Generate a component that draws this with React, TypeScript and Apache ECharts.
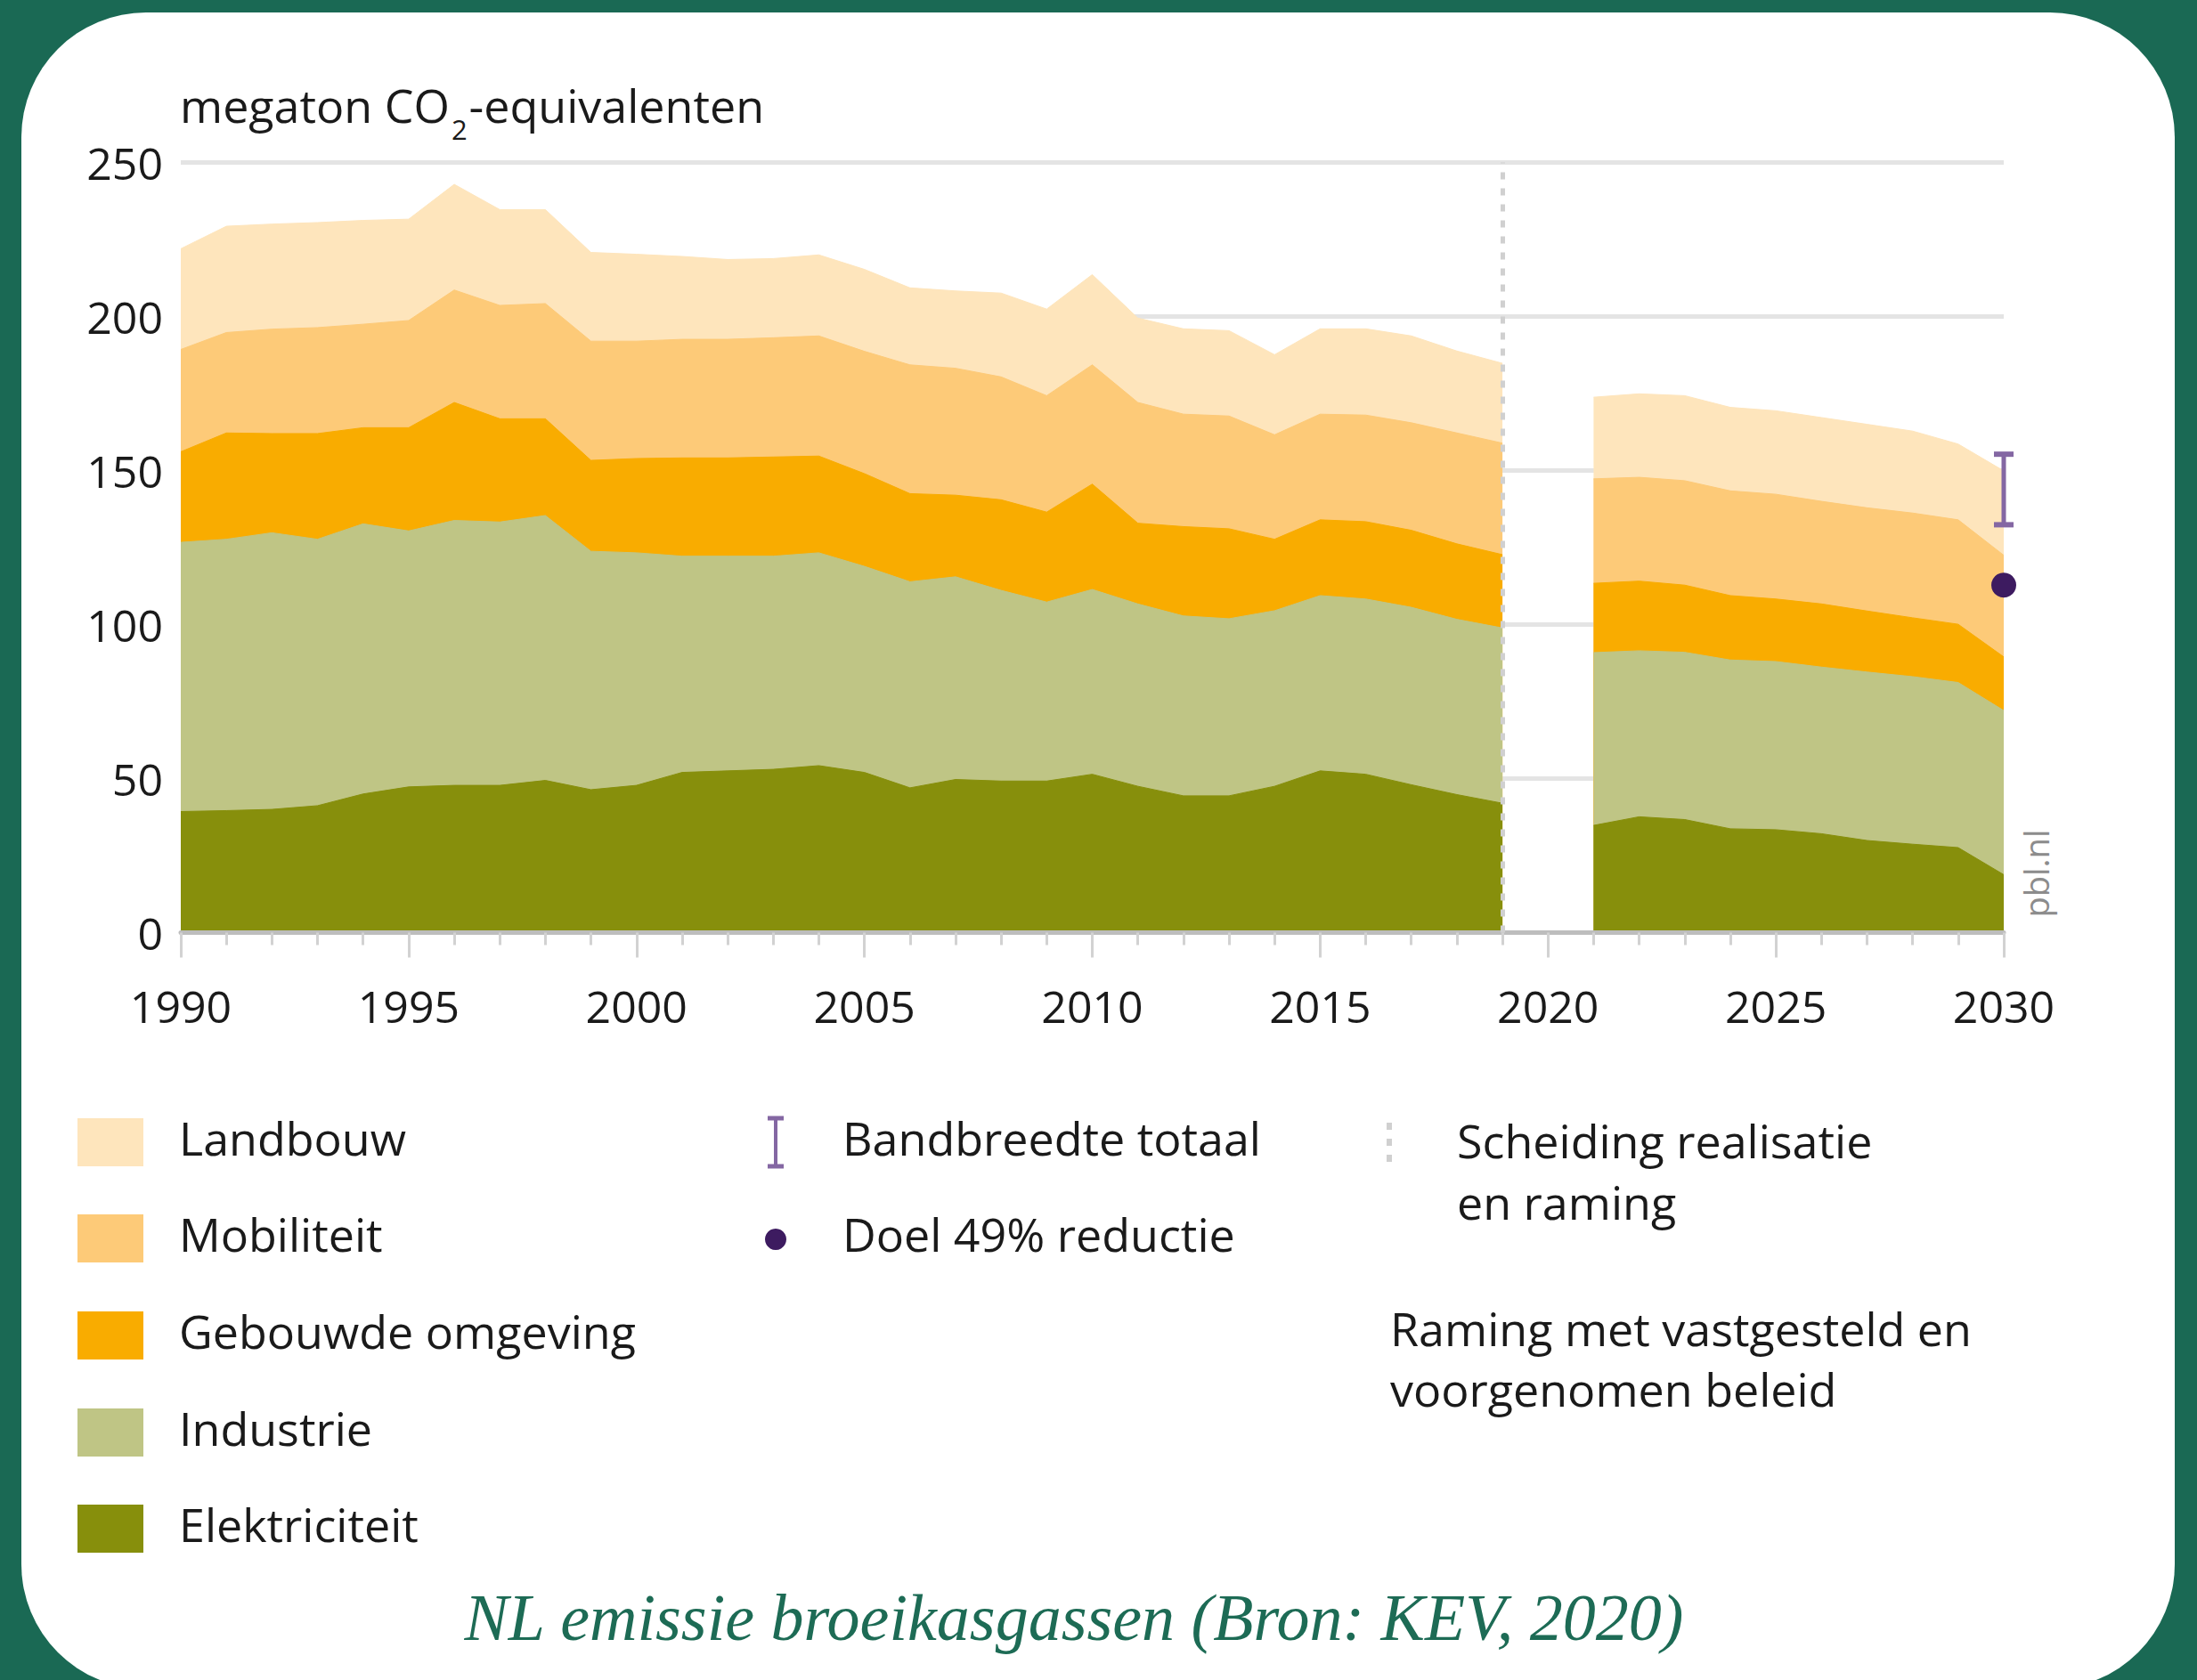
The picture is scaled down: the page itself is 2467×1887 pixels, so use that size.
import React, { useEffect, useRef } from "react";
import * as echarts from "echarts";

const W = 2467;
const H = 1887;

const GREEN = "#1a6954";
const TEXT = "#1a1a1a";
const FONT = '"Open Sans", "Noto Sans", sans-serif';

// ---- data (megaton CO2-equivalenten) ----
const histYears = [
  1990, 1991, 1992, 1993, 1994, 1995, 1996, 1997, 1998, 1999,
  2000, 2001, 2002, 2003, 2004, 2005, 2006, 2007, 2008, 2009,
  2010, 2011, 2012, 2013, 2014, 2015, 2016, 2017, 2018, 2019,
];
const projYears = [2021, 2022, 2023, 2024, 2025, 2026, 2027, 2028, 2029, 2030];

const elektriciteitHist = [
  39.3, 39.6, 40.0, 41.2, 45.0, 47.3, 47.8, 47.8, 49.4, 46.4,
  47.8, 52.0, 52.5, 53.0, 54.2, 52.0, 47.0, 49.7, 49.2, 49.2,
  51.4, 47.5, 44.4, 44.4, 47.5, 52.5, 51.4, 48.0, 44.8, 42.0,
];
const industrieHist = [
  87.4, 88.1, 89.8, 86.5, 87.7, 83.1, 86.0, 85.5, 86.0, 77.4,
  75.5, 70.2, 69.7, 69.2, 69.1, 66.9, 66.9, 65.8, 61.9, 58.1,
  60.0, 59.2, 58.4, 57.5, 57.0, 56.9, 56.9, 57.6, 56.9, 56.9,
];
const gebouwdeHist = [
  29.4, 34.5, 32.2, 34.3, 31.2, 33.5, 38.3, 33.5, 31.4, 29.5,
  30.6, 31.9, 31.9, 32.2, 31.4, 30.1, 28.6, 26.5, 29.4, 29.2,
  34.2, 26.2, 29.0, 29.2, 23.2, 24.6, 25.1, 25.0, 24.5, 23.8,
];
const mobiliteitHist = [
  33.2, 32.6, 33.9, 34.4, 33.6, 34.8, 36.5, 36.8, 37.4, 38.7,
  38.1, 38.5, 38.5, 38.7, 39.0, 39.7, 41.8, 41.2, 39.9, 37.8,
  38.7, 39.2, 36.5, 36.6, 33.9, 34.3, 34.6, 34.9, 36.0, 36.2,
];
const landbouwHist = [
  32.7, 34.5, 34.1, 34.1, 33.7, 32.9, 34.3, 31.1, 30.5, 28.8,
  28.2, 26.9, 25.9, 25.7, 26.3, 26.6, 25.0, 25.1, 27.2, 28.1,
  29.3, 27.4, 27.7, 27.7, 26.0, 27.7, 28.0, 28.2, 26.6, 25.9,
];

const elektriciteitProj = [34.8, 37.6, 36.7, 33.7, 33.4, 32.1, 29.9, 28.7, 27.6, 18.8];
const industrieProj = [56.1, 53.9, 54.3, 54.8, 54.6, 54.1, 54.7, 54.4, 53.6, 53.3];
const gebouwdeProj = [22.5, 22.6, 21.8, 20.9, 20.3, 20.5, 19.8, 19.1, 18.9, 17.4];
const mobiliteitProj = [33.9, 33.7, 33.9, 34.0, 34.0, 33.3, 33.5, 34.0, 33.9, 33.0];
const landbouwProj = [26.5, 27.1, 27.6, 27.1, 27.1, 27.2, 27.1, 26.6, 24.6, 27.4];

const bandYear = 2030;
const bandLow = 132.4;
const bandHigh = 155.3;
const doelValue = 112.8;
const scheidingYear = 2019;

const yTicks = [0, 50, 100, 150, 200, 250];
const xRange = [1990, 2030];
const xInterval = 5;

// bottom to top
const sectors = [
  { name: "Elektriciteit", color: "#878f0c", hist: elektriciteitHist, proj: elektriciteitProj },
  { name: "Industrie", color: "#bfc585", hist: industrieHist, proj: industrieProj },
  { name: "Gebouwde omgeving", color: "#f9ac00", hist: gebouwdeHist, proj: gebouwdeProj },
  { name: "Mobiliteit", color: "#fdca78", hist: mobiliteitHist, proj: mobiliteitProj },
  { name: "Landbouw", color: "#fee5bc", hist: landbouwHist, proj: landbouwProj },
];

const BAND_COLOR = "#8467a3";
const DOT_COLOR = "#3d1b60";
const DIVIDER_COLOR = "#d0d0d0";

function cumulative(key: "hist" | "proj", upto: number): number[] {
  const n = sectors[0][key].length;
  const out: number[] = [];
  for (let i = 0; i < n; i++) {
    let s = 0;
    for (let k = 0; k <= upto; k++) s += sectors[k][key][i];
    out.push(Math.round(s * 100) / 100);
  }
  return out;
}

export default function App() {
  const ref = useRef<HTMLDivElement>(null);

  useEffect(() => {
    document.body.style.margin = "0";
    const el = ref.current;
    if (!el) return;
    const chart = echarts.init(el, null, { renderer: "svg", width: W, height: H });

    const series: any[] = [];
    // draw top-most cumulative layer first; each fills to 0, lower layers drawn over it
    for (let k = sectors.length - 1; k >= 0; k--) {
      const s = sectors[k];
      const histCum = cumulative("hist", k);
      const projCum = cumulative("proj", k);
      const z = 2 + (sectors.length - 1 - k);
      series.push({
        type: "line",
        name: s.name,
        data: histYears.map((y, i) => [y, histCum[i]]),
        symbol: "none",
        showSymbol: false,
        lineStyle: { width: 1, color: s.color },
        areaStyle: { color: s.color, opacity: 1, origin: "start" },
        silent: true,
        z,
      });
      series.push({
        type: "line",
        name: s.name + " raming",
        data: projYears.map((y, i) => [y, projCum[i]]),
        symbol: "none",
        showSymbol: false,
        lineStyle: { width: 1, color: s.color },
        areaStyle: { color: s.color, opacity: 1, origin: "start" },
        silent: true,
        z,
      });
    }

    // divider between realisation and projection
    series.push({
      type: "line",
      data: [],
      silent: true,
      z: 20,
      markLine: {
        silent: true,
        symbol: ["none", "none"],
        label: { show: false },
        lineStyle: { color: DIVIDER_COLOR, width: 5, type: [8, 10] },
        data: [{ xAxis: scheidingYear }],
        z: 20,
      },
    });

    // bandwidth error bar
    series.push({
      type: "custom",
      silent: true,
      z: 21,
      encode: { x: 0, y: [1, 2] },
      data: [[bandYear, bandLow, bandHigh]],
      renderItem: (_params: any, api: any) => {
        const lo = api.coord([api.value(0), api.value(1)]);
        const hi = api.coord([api.value(0), api.value(2)]);
        const cap = 11;
        return {
          type: "group",
          children: [
            { type: "line", shape: { x1: lo[0], y1: lo[1], x2: hi[0], y2: hi[1] }, style: { stroke: BAND_COLOR, lineWidth: 5 } },
            { type: "line", shape: { x1: lo[0] - cap, y1: lo[1], x2: lo[0] + cap, y2: lo[1] }, style: { stroke: BAND_COLOR, lineWidth: 6 } },
            { type: "line", shape: { x1: hi[0] - cap, y1: hi[1], x2: hi[0] + cap, y2: hi[1] }, style: { stroke: BAND_COLOR, lineWidth: 6 } },
          ],
        };
      },
    });

    // target dot
    series.push({
      type: "scatter",
      silent: true,
      z: 22,
      data: [[bandYear, doelValue]],
      symbol: "circle",
      symbolSize: 28,
      itemStyle: { color: DOT_COLOR, opacity: 1 },
    });

    // measure title pieces
    const ctx = document.createElement("canvas").getContext("2d")!;
    const titleSize = 52;
    ctx.font = `${titleSize}px ${FONT}`;
    const part1 = "megaton CO";
    const w1 = ctx.measureText(part1).width;
    const subSize = 31;
    ctx.font = `${subSize}px ${FONT}`;
    const wSub = ctx.measureText("2").width;
    const titleX = 202;
    const titleY = 117;

    const legendRows = [1279, 1387, 1496, 1605, 1713];
    const legendOrder = [...sectors].reverse();
    const txt = (text: string, x: number, y: number, size: number, extra: any = {}) => ({
      type: "text",
      silent: true,
      style: {
        text,
        x,
        y,
        fill: TEXT,
        font: `${size}px ${FONT}`,
        align: "left",
        textAlign: "left",
        verticalAlign: "middle",
        textVerticalAlign: "middle",
        ...extra,
      },
    });

    const graphics: any[] = [];
    // title
    graphics.push(txt(part1, titleX, titleY, titleSize));
    graphics.push(txt("2", titleX + w1 + 2, titleY + 28, subSize));
    graphics.push(txt("-equivalenten", titleX + w1 + wSub + 4, titleY, titleSize));

    // legend column 1
    legendOrder.forEach((s, i) => {
      graphics.push({
        type: "rect",
        silent: true,
        shape: { x: 87, y: legendRows[i] + 4 - 27, width: 74, height: 54 },
        style: { fill: s.color },
      });
      graphics.push(txt(s.name, 201, legendRows[i] - 2, 52));
    });

    // legend column 2
    const ibx = 871;
    graphics.push({
      type: "group",
      silent: true,
      children: [
        { type: "line", shape: { x1: ibx, y1: 1256, x2: ibx, y2: 1310 }, style: { stroke: BAND_COLOR, lineWidth: 4 } },
        { type: "line", shape: { x1: ibx - 9, y1: 1256, x2: ibx + 9, y2: 1256 }, style: { stroke: BAND_COLOR, lineWidth: 5 } },
        { type: "line", shape: { x1: ibx - 9, y1: 1310, x2: ibx + 9, y2: 1310 }, style: { stroke: BAND_COLOR, lineWidth: 5 } },
      ],
    });
    graphics.push(txt("Bandbreedte totaal", 946, legendRows[0] - 2, 52));
    graphics.push({
      type: "circle",
      silent: true,
      shape: { cx: ibx, cy: 1392, r: 12 },
      style: { fill: DOT_COLOR },
    });
    graphics.push(txt("Doel 49% reductie", 946, legendRows[1] - 2, 52));

    // legend column 3
    graphics.push({
      type: "line",
      silent: true,
      shape: { x1: 1560, y1: 1261, x2: 1560, y2: 1314 },
      style: { stroke: DIVIDER_COLOR, lineWidth: 6, lineDash: [8, 10] },
    });
    graphics.push(txt("Scheiding realisatie", 1636, 1280, 52));
    graphics.push(txt("en raming", 1636, 1349, 52));
    graphics.push(txt("Raming met vastgesteld en", 1561, 1491, 52));
    graphics.push(txt("voorgenomen beleid", 1561, 1559, 52));

    // source watermark
    graphics.push({
      type: "text",
      silent: true,
      x: 2286,
      y: 981,
      rotation: Math.PI / 2,
      style: {
        text: "pbl.nl",
        x: 0,
        y: 0,
        fill: "#8c8c8c",
        font: `38px ${FONT}`,
        align: "center",
        textAlign: "center",
        verticalAlign: "middle",
        textVerticalAlign: "middle",
      },
    });

    // caption
    graphics.push({
      type: "text",
      silent: true,
      style: {
        text: "NL emissie broeikasgassen (Bron: KEV, 2020)",
        x: 1206,
        y: 1817,
        fill: "#1d6b55",
        font: `italic 74px "Liberation Serif", "DejaVu Serif", serif`,
        align: "center",
        textAlign: "center",
        verticalAlign: "middle",
        textVerticalAlign: "middle",
      },
    });

    const option: any = {
      animation: false,
      backgroundColor: "transparent",
      grid: { left: 203, right: W - 2250, top: 182.5, bottom: H - 1047.5, containLabel: false },
      xAxis: {
        type: "value",
        min: xRange[0],
        max: xRange[1],
        interval: xInterval,
        z: 15,
        axisLine: { show: true, lineStyle: { color: "#bdbdbd", width: 5 } },
        axisTick: { show: true, length: 28, lineStyle: { color: "#d2d2d2", width: 3 } },
        minorTick: { show: true, splitNumber: 5, length: 14, lineStyle: { color: "#d2d2d2", width: 3 } },
        splitLine: { show: false },
        minorSplitLine: { show: false },
        axisLabel: {
          margin: 57,
          fontSize: 50,
          fontFamily: FONT,
          color: TEXT,
          formatter: (v: number) => String(v),
        },
      },
      yAxis: {
        type: "value",
        min: yTicks[0],
        max: yTicks[yTicks.length - 1],
        interval: yTicks[1] - yTicks[0],
        z: 0,
        axisLine: { show: false },
        axisTick: { show: false },
        splitLine: { show: true, lineStyle: { color: "#e4e4e4", width: 5 } },
        axisLabel: {
          margin: 20,
          fontSize: 50,
          fontFamily: FONT,
          color: TEXT,
          formatter: (v: number) => String(v),
        },
      },
      series,
      graphic: { elements: graphics },
    };

    chart.setOption(option);
    return () => chart.dispose();
  }, []);

  return (
    <div style={{ position: "relative", width: W, height: H, background: GREEN, overflow: "hidden" }}>
      <div
        style={{
          position: "absolute",
          left: 24,
          top: 14,
          width: 2418,
          height: 1883,
          background: "#ffffff",
          borderRadius: 140,
        }}
      />
      <div ref={ref} style={{ position: "absolute", left: 0, top: 0, width: W, height: H }} />
    </div>
  );
}
